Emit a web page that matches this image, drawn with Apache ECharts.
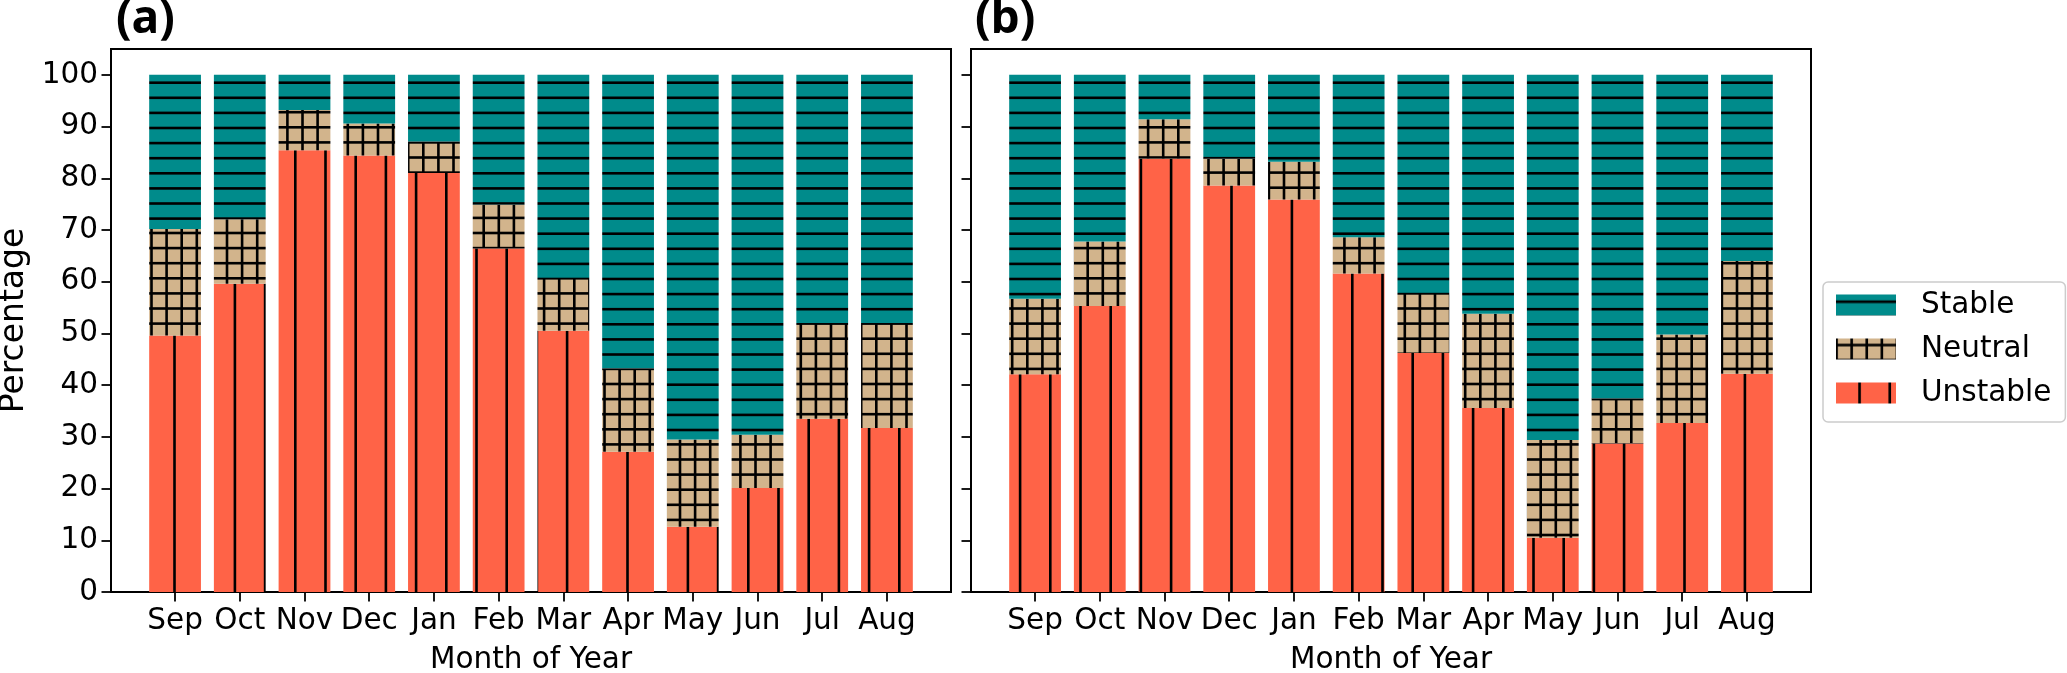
<!DOCTYPE html>
<html><head><meta charset="utf-8">
<script src="https://cdn.jsdelivr.net/npm/echarts@6/dist/echarts.min.js"></script>
<style>html,body{margin:0;padding:0;background:#fff}#c{width:2067px;height:673px}</style>
</head><body><div id="c"></div>
<script>
// ---- data ----
const months = ['Sep','Oct','Nov','Dec','Jan','Feb','Mar','Apr','May','Jun','Jul','Aug'];
const yTicks = [0,10,20,30,40,50,60,70,80,90,100];
const seriesNames = ['Stable','Neutral','Unstable'];
// panel (a)
const unstableA = [49.6, 59.6, 85.4, 84.4, 81.0, 66.4, 50.5, 27.1, 12.6, 20.1, 33.5, 31.7];
const neutralA  = [20.6, 12.5,  7.8,  6.2,  6.1,  8.5, 10.2, 16.1, 16.9, 10.3, 18.5, 20.3];
const stableA   = [29.8, 27.9,  6.8,  9.4, 12.9, 25.1, 39.3, 56.8, 70.5, 69.6, 48.0, 48.0];
// panel (b)
const unstableB = [42.1, 55.3, 83.8, 78.6, 75.9, 61.6, 46.2, 35.6, 10.5, 28.7, 32.7, 42.2];
const neutralB  = [14.6, 12.5,  7.6,  5.2,  7.3,  7.0, 11.6, 18.2, 18.9,  8.7, 17.1, 21.8];
const stableB   = [43.3, 32.2,  8.6, 16.2, 16.8, 31.4, 42.2, 46.2, 70.6, 62.6, 50.2, 36.0];

// ---- hatch patterns ----
function makePattern(bg, w, h, draw) {
  const c = document.createElement('canvas'); c.width = w; c.height = h;
  const g = c.getContext('2d'); g.fillStyle = bg; g.fillRect(0, 0, w, h);
  g.fillStyle = '#000'; draw(g, w, h); return c;
}
const P = 15.1, LW = 2.6;
const stablePat = makePattern('#008B8B', 8, 151, (g, w) => {
  for (let k = -1; k <= 10; k++) g.fillRect(0, 7.2 + k * P - LW / 2, w, LW);
});
const neutralPat = makePattern('#D2B48C', 151, 151, (g, w, h) => {
  for (let k = -1; k <= 10; k++) {
    g.fillRect(0, 6.5 + k * P - LW / 2, w, LW);
    g.fillRect(0.5 + k * P - LW / 2, 0, LW, h);
  }
});
const unstablePat = makePattern('#FF6347', 302, 8, (g, w, h) => {
  for (let k = -1; k <= 10; k++) g.fillRect(23.5 + k * 2 * P - LW / 2, 0, LW, h);
});
const pat = {
  Stable: { image: stablePat, repeat: 'repeat' },
  Neutral: { image: neutralPat, repeat: 'repeat' },
  Unstable: { image: unstablePat, repeat: 'repeat' }
};

const FONT = 'DejaVu Sans';
const FS = 29.5;
const TICK = { show: true, length: 9.5, lineStyle: { color: '#000', width: 1.8 } };

// frame geometry (matplotlib-like x margins: first/last bar centre 0.99 band from frame edge)
const FRAME_W = 840, TOP = 49, H = 543;
const band = FRAME_W / 12.98;
const frameLeft = [111, 971];

const grids = [], xAxes = [], yAxes = [];
frameLeft.forEach((L, p) => {
  grids.push({ left: L, top: TOP, width: FRAME_W, height: H, show: true, borderColor: '#000', borderWidth: 2,
               backgroundColor: 'transparent', containLabel: false, outerBoundsMode: 'none' });
  xAxes.push({ gridIndex: p, type: 'value', min: 0, max: 1, show: false });
  yAxes.push({
    gridIndex: p, type: 'value', min: 0, max: 105, splitLine: { show: false },
    axisLine: { show: false, onZero: false },
    axisTick: Object.assign({ customValues: yTicks }, TICK),
    axisLabel: { show: p === 0, customValues: yTicks, color: '#000', fontSize: FS, fontFamily: FONT, margin: 13 },
    name: p === 0 ? 'Percentage' : '', nameLocation: 'middle', nameGap: 80, nameRotate: 90,
    nameTextStyle: { color: '#000', fontSize: 33, fontFamily: FONT }
  });
});
frameLeft.forEach((L, p) => {
  const gi = 2 + p;
  grids.push({ left: L + 0.49 * band, top: TOP, width: 12 * band, height: H, show: false,
               containLabel: false, outerBoundsMode: 'none' });
  xAxes.push({
    gridIndex: gi, type: 'category', data: months, boundaryGap: true,
    axisLine: { show: false },
    axisTick: Object.assign({ alignWithLabel: true, interval: 0 }, TICK),
    axisLabel: { interval: 0, color: '#000', fontSize: FS, fontFamily: FONT, margin: 14 },
    name: 'Month of Year', nameLocation: 'middle', nameGap: 53,
    nameTextStyle: { color: '#000', fontSize: FS, fontFamily: FONT }
  });
  yAxes.push({ gridIndex: gi, type: 'value', min: 0, max: 105, show: false });
});

function panelSeries(axisIdx, U, N, S) {
  const mk = (name, arr) => ({
    name, type: 'bar', stack: 'p' + axisIdx, xAxisIndex: axisIdx, yAxisIndex: axisIdx, barWidth: '80%',
    data: arr, itemStyle: { color: pat[name] }, emphasis: { disabled: true }
  });
  return [mk('Unstable', U), mk('Neutral', N), mk('Stable', S)];
}

const chart = echarts.init(document.getElementById('c'), null, { renderer: 'canvas' });
chart.setOption({
  animation: false,
  backgroundColor: '#fff',
  grid: grids, xAxis: xAxes, yAxis: yAxes,
  legend: {
    orient: 'vertical', left: 1823, top: 282, data: seriesNames, icon: 'rect',
    itemWidth: 60, itemHeight: 21, itemGap: 14, padding: [8, 14, 14, 13],
    borderColor: '#cccccc', borderWidth: 1.5, borderRadius: 5, backgroundColor: '#fff',
    selectedMode: false,
    textStyle: { fontSize: FS, fontFamily: FONT, color: '#000', padding: [0, 0, 0, 20] }
  },
  graphic: [
    { type: 'text', style: { x: 116, y: 20, text: '(a)', font: 'bold 46px "Open Sans"', fill: '#000', textVerticalAlign: 'middle' } },
    { type: 'text', style: { x: 975, y: 20, text: '(b)', font: 'bold 46px "Open Sans"', fill: '#000', textVerticalAlign: 'middle' } }
  ],
  series: [].concat(panelSeries(2, unstableA, neutralA, stableA), panelSeries(3, unstableB, neutralB, stableB))
});
</script>
</body></html>
